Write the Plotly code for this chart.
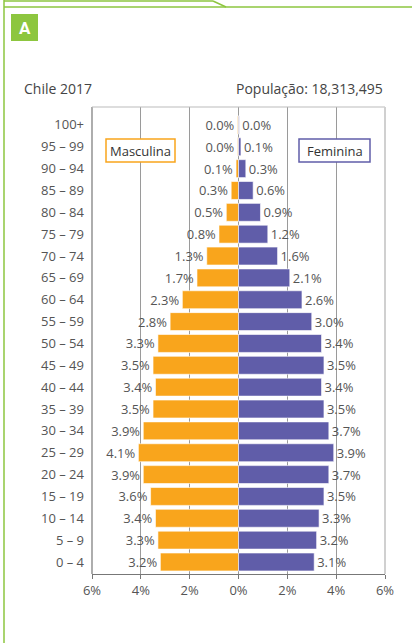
import plotly.graph_objects as go

ages = ["100+", "95 – 99", "90 – 94", "85 – 89", "80 – 84", "75 – 79", "70 – 74",
        "65 – 69", "60 – 64", "55 – 59", "50 – 54", "45 – 49", "40 – 44", "35 – 39",
        "30 – 34", "25 – 29", "20 – 24", "15 – 19", "10 – 14", "5 – 9", "0 – 4"]
male = [0.04, 0.04, 0.1, 0.3, 0.5, 0.8, 1.3, 1.7, 2.3, 2.8, 3.3, 3.5, 3.4, 3.5,
        3.9, 4.1, 3.9, 3.6, 3.4, 3.3, 3.2]
female = [0.03, 0.1, 0.3, 0.6, 0.9, 1.2, 1.6, 2.1, 2.6, 3.0, 3.4, 3.5, 3.4, 3.5,
          3.7, 3.9, 3.7, 3.5, 3.3, 3.2, 3.1]
tick_vals = [-6, -4, -2, 0, 2, 4, 6]
tick_text = ["6%", "4%", "2%", "0%", "2%", "4%", "6%"]

W, H = 412, 643
L, R, T, B = 92, 385, 107, 574


def xp(px):
    return (px - L) / (R - L)


def yp(py):
    return (B - py) / (B - T)


ORANGE = "#F9A51C"
PURPLE = "#605DA9"
GREEN = "#8DC63F"
TXT = "#555555"
FONT = "Open Sans"

fig = go.Figure()
fig.add_trace(go.Bar(
    y=ages, x=[-v for v in male], orientation="h",
    marker=dict(color=ORANGE, line=dict(color="white", width=0.6)),
    text=[f"{v:.1f}%" for v in male], textposition="outside",
    textfont=dict(size=13, color=TXT, family=FONT), cliponaxis=False,
    name="Masculina", showlegend=False))
fig.add_trace(go.Bar(
    y=ages, x=female, orientation="h",
    marker=dict(color=PURPLE, line=dict(color="white", width=0.6)),
    text=[f"{v:.1f}%" for v in female], textposition="outside",
    textfont=dict(size=13, color=TXT, family=FONT), cliponaxis=False,
    name="Feminina", showlegend=False))

shapes = []
# plot border
shapes.append(dict(type="line", xref="paper", yref="paper", x0=0, x1=0, y0=0, y1=1,
                   line=dict(color="#777777", width=1.2)))
shapes.append(dict(type="line", xref="paper", yref="paper", x0=0, x1=1, y0=1, y1=1,
                   line=dict(color="#BBBBBB", width=1.2)))
shapes.append(dict(type="line", xref="paper", yref="paper", x0=1, x1=1, y0=0, y1=1,
                   line=dict(color="#D0D0D0", width=2)))
# green frame
shapes.append(dict(type="line", xref="paper", yref="paper", x0=xp(4), x1=xp(4),
                   y0=yp(0), y1=yp(643), line=dict(color=GREEN, width=1.5)))
shapes.append(dict(type="line", xref="paper", yref="paper", x0=xp(4), x1=xp(412),
                   y0=yp(7), y1=yp(7), line=dict(color=GREEN, width=1.5)))
shapes.append(dict(type="line", xref="paper", yref="paper", x0=xp(4), x1=xp(213),
                   y0=yp(1), y1=yp(1), line=dict(color=GREEN, width=1.5)))
shapes.append(dict(type="line", xref="paper", yref="paper", x0=xp(213), x1=xp(226),
                   y0=yp(1), y1=yp(7), line=dict(color=GREEN, width=1.5)))
shapes.append(dict(type="rect", xref="paper", yref="paper", x0=xp(11), x1=xp(38),
                   y0=yp(41), y1=yp(14), fillcolor=GREEN, line=dict(width=0)))
# legend boxes
shapes.append(dict(type="rect", xref="paper", yref="paper", x0=xp(106), x1=xp(175),
                   y0=yp(162), y1=yp(139), fillcolor="white",
                   line=dict(color=ORANGE, width=1.5)))
shapes.append(dict(type="rect", xref="paper", yref="paper", x0=xp(299), x1=xp(370),
                   y0=yp(162), y1=yp(139), fillcolor="white",
                   line=dict(color=PURPLE, width=1.5)))

annotations = [
    dict(text="<b>A</b>", x=xp(24.5), y=yp(27.5), xref="paper", yref="paper",
         showarrow=False, font=dict(size=17, color="white", family="Roboto"),
         xanchor="center", yanchor="middle"),
    dict(text="Chile 2017", x=xp(22), y=yp(89), xref="paper", yref="paper",
         showarrow=False, font=dict(size=14, color="#444444", family=FONT),
         xanchor="left", yanchor="middle"),
    dict(text="População: 18,313,495", x=xp(385), y=yp(89), xref="paper", yref="paper",
         showarrow=False, font=dict(size=14, color="#444444", family=FONT),
         xanchor="right", yanchor="middle"),
    dict(text="Masculina", x=xp(140.5), y=yp(150.5), xref="paper", yref="paper",
         showarrow=False, font=dict(size=13, color="#333333", family=FONT),
         xanchor="center", yanchor="middle"),
    dict(text="Feminina", x=xp(334.5), y=yp(150.5), xref="paper", yref="paper",
         showarrow=False, font=dict(size=13, color="#333333", family=FONT),
         xanchor="center", yanchor="middle"),
]

fig.update_layout(
    width=W, height=H, autosize=False,
    margin=dict(l=L, r=W - R, t=T, b=H - B, pad=0),
    paper_bgcolor="white", plot_bgcolor="white",
    barmode="overlay", bargap=0.18,
    shapes=shapes, annotations=annotations,
    xaxis=dict(range=[-6, 6], tickvals=tick_vals, ticktext=tick_text,
               showgrid=True, gridcolor="#9A9A9A", gridwidth=1, zeroline=False,
               showline=True, linecolor="#777777", linewidth=1.2,
               ticks="outside", ticklen=4, tickcolor="#777777",
               tickfont=dict(size=13, color=TXT, family=FONT), fixedrange=True),
    yaxis=dict(type="category", categoryorder="array", categoryarray=ages[::-1],
               range=[-0.55, 20.82], showgrid=False, zeroline=False,
               showline=False, ticks="", ticklabelstandoff=7,
               tickfont=dict(size=13, color=TXT, family=FONT), fixedrange=True),
    font=dict(family=FONT),
)

fig.write_html("out.html", config={"displayModeBar": False},
               post_script="document.body.style.margin='0';document.body.style.padding='0';")
